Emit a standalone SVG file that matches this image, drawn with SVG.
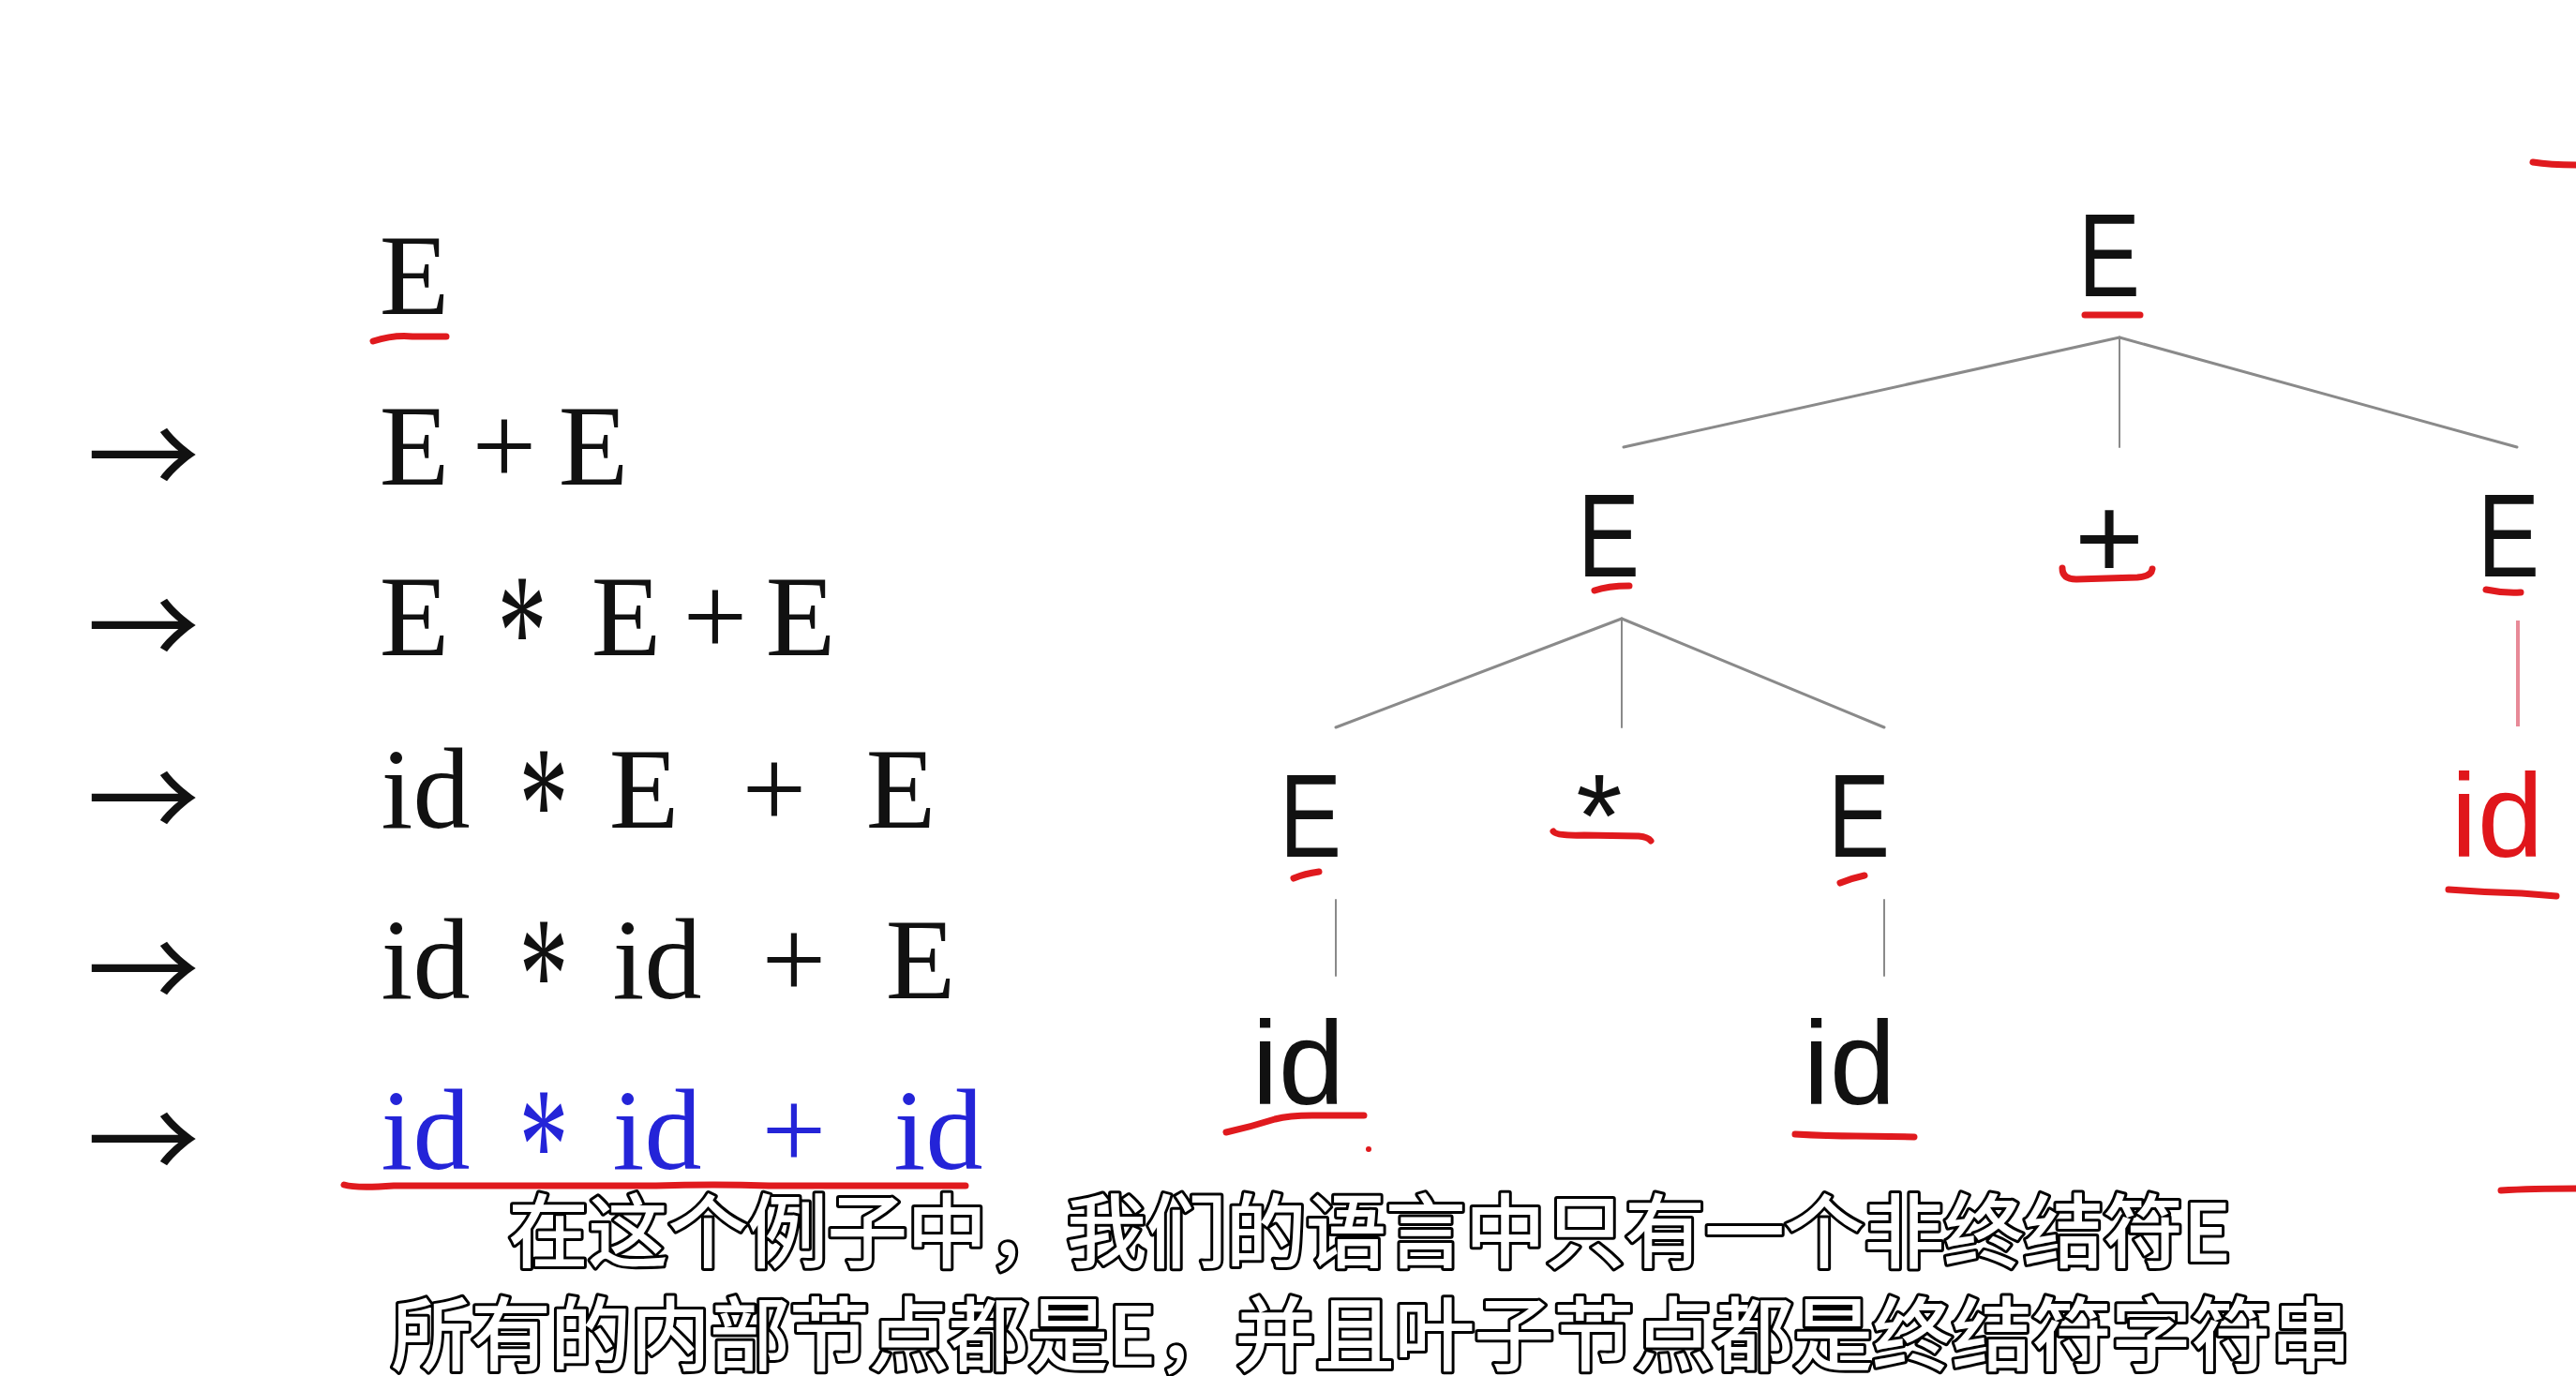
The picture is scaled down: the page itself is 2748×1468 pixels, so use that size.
<svg xmlns="http://www.w3.org/2000/svg" width="2748" height="1468" viewBox="0 0 2748 1468">
<style>
.d{font-family:"Liberation Serif","Times New Roman",serif;font-size:122px;fill:#111;text-anchor:middle}
.s{font-size:175px}
.b{fill:#2424d8}
.ar{font-family:"Noto Sans CJK SC","DejaVu Serif",sans-serif;font-size:120px;fill:#111;text-anchor:middle}
.t{font-family:"Liberation Sans",Arial,sans-serif;font-size:127px;fill:#111;text-anchor:middle}
.tr{fill:#e0161b}
.edge{stroke:#8a8a8a;stroke-width:3;fill:none;stroke-linecap:round}
.thin{stroke-width:2}
.red{stroke:#e01a1e;stroke-width:7;fill:none;stroke-linecap:round;stroke-linejoin:round}
.pink{stroke:#e88a98;stroke-width:4;fill:none}
.sub{font-family:"Noto Sans CJK SC",sans-serif;font-size:86px;font-weight:500;fill:#fff;stroke:#000;stroke-width:6;paint-order:stroke;stroke-linejoin:round}
</style>
<rect width="2748" height="1468" fill="#fff"/>

<g id="derivation">
  <g id="line1"><text class="d" x="442" y="335">E</text></g>
  <g id="line2">
    <text class="ar" x="153" y="531">→</text>
    <text class="d" x="442" y="517">E</text><text class="d" x="538" y="517">+</text><text class="d" x="633" y="517">E</text>
  </g>
  <g id="line3">
    <text class="ar" x="153" y="713">→</text>
    <text class="d" x="442" y="699">E</text><text class="d s" x="557" y="733" textLength="53" lengthAdjust="spacingAndGlyphs">*</text><text class="d" x="668" y="699">E</text><text class="d" x="763" y="699">+</text><text class="d" x="854" y="699">E</text>
  </g>
  <g id="line4">
    <text class="ar" x="153" y="897">→</text>
    <text class="d" x="454" y="883">id</text><text class="d s" x="580" y="917" textLength="53" lengthAdjust="spacingAndGlyphs">*</text><text class="d" x="687" y="883">E</text><text class="d" x="826" y="883">+</text><text class="d" x="961" y="883">E</text>
  </g>
  <g id="line5">
    <text class="ar" x="153" y="1079">→</text>
    <text class="d" x="454" y="1065">id</text><text class="d s" x="580" y="1099" textLength="53" lengthAdjust="spacingAndGlyphs">*</text><text class="d" x="701" y="1065">id</text><text class="d" x="847" y="1065">+</text><text class="d" x="982" y="1065">E</text>
  </g>
  <g id="line6">
    <text class="ar b" x="153" y="1261">→</text>
    <text class="d b" x="454" y="1247">id</text><text class="d s b" x="580" y="1281" textLength="53" lengthAdjust="spacingAndGlyphs">*</text><text class="d b" x="701" y="1247">id</text><text class="d b" x="847" y="1247">+</text><text class="d b" x="1001" y="1247">id</text>
  </g>
  <path class="red" d="M398,364 Q420,357 440,359 L476,359"/>
  <path class="red" stroke-width="9" d="M367,1264 Q380,1268 420,1265 L700,1265 Q760,1263 820,1265 L1030,1265"/>
</g>

<g id="connectors">
  <line class="edge" x1="2261" y1="360" x2="1732" y2="477"/>
  <line class="edge thin" x1="2261" y1="360" x2="2261" y2="477"/>
  <line class="edge" x1="2261" y1="360" x2="2685" y2="477"/>
  <line class="edge" x1="1730" y1="660" x2="1425" y2="776"/>
  <line class="edge thin" x1="1730" y1="660" x2="1730" y2="776"/>
  <line class="edge" x1="1730" y1="660" x2="2010" y2="776"/>
  <line class="edge thin" x1="1425" y1="960" x2="1425" y2="1041"/>
  <line class="edge thin" x1="2010" y1="960" x2="2010" y2="1041"/>
  <line class="pink" x1="2686" y1="662" x2="2686" y2="775"/>
</g>

<g id="n-root"><text class="t" x="2250" y="316" textLength="66" lengthAdjust="spacingAndGlyphs">E</text></g>
<g id="n-E-left"><text class="t" x="1716" y="615" textLength="66" lengthAdjust="spacingAndGlyphs">E</text></g>
<g id="n-plus"><text class="t" x="2250" y="617">+</text></g>
<g id="n-E-right"><text class="t" x="2676" y="615" textLength="66" lengthAdjust="spacingAndGlyphs">E</text></g>
<g id="n-E-ll"><text class="t" x="1398" y="914" textLength="66" lengthAdjust="spacingAndGlyphs">E</text></g>
<g id="n-star"><text class="t" x="1706" y="914">*</text></g>
<g id="n-E-lr"><text class="t" x="1983" y="914" textLength="66" lengthAdjust="spacingAndGlyphs">E</text></g>
<g id="n-id-r"><text class="t tr" x="2664" y="914">id</text></g>
<g id="n-id-1"><text class="t" x="1385" y="1178">id</text></g>
<g id="n-id-2"><text class="t" x="1973" y="1178">id</text></g>

<g id="marks">
  <path class="red" stroke-width="6" d="M2224,336 L2283,336"/>
  <path class="red" stroke-width="5" d="M1701,630 Q1715,625 1738,625"/>
  <path class="red" stroke-width="6" d="M2200,606 Q2200,618 2215,618 L2280,616 Q2295,615 2296,607"/>
  <path class="red" stroke-width="5" d="M2652,629 Q2670,633 2689,632"/>
  <path class="red" stroke-width="5" d="M1380,937 Q1392,932 1407,930"/>
  <path class="red" stroke-width="6" d="M1657,887 Q1660,892 1690,891 L1748,892 Q1758,893 1761,897"/>
  <path class="red" stroke-width="5" d="M1963,942 Q1975,937 1989,934"/>
  <path class="red" stroke-width="6" d="M1308,1208 Q1335,1202 1360,1194 Q1375,1190 1400,1190 L1455,1190"/>
  <circle cx="1460" cy="1226" r="3" fill="#e01a1e"/>
  <path class="red" stroke-width="6" d="M1915,1210 Q1950,1212 1980,1212 L2042,1213"/>
  <path class="red" stroke-width="6" d="M2612,949 Q2650,952 2690,953 L2727,956"/>
  <path class="red" stroke-width="6" d="M2702,173 Q2720,176 2748,176"/>
  <path class="red" stroke-width="6" d="M2668,1270 Q2700,1268 2748,1268"/>
</g>

<g id="subtitles">
  <text class="sub" x="542" y="1346" textLength="1838">在这个例子中，我们的语言中只有一个非终结符E</text>
  <text class="sub" x="417" y="1456" textLength="2091">所有的内部节点都是E，并且叶子节点都是终结符字符串</text>
</g>
</svg>
